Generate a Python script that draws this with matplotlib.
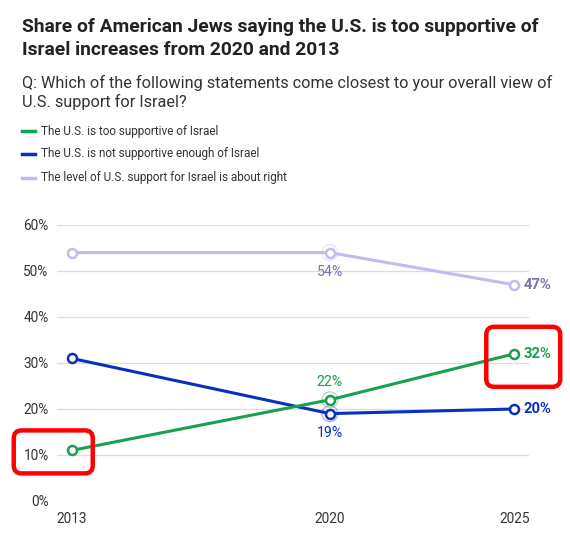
import matplotlib.pyplot as plt
from matplotlib.patches import FancyBboxPatch

years = [2013, 2020, 2025]
too_supportive = [11, 22, 32]
not_enough = [31, 19, 20]
about_right = [54, 54, 47]
series_names = ["The U.S. is too supportive of Israel",
                "The U.S. is not supportive enough of Israel",
                "The level of U.S. support for Israel is about right"]
yticks = [0, 10, 20, 30, 40, 50, 60]

green = '#17a052'
blue = '#0a2fbf'
lav = '#c3baf0'
lav_txt = '#7a72b4'

W, H = 570, 533
fig = plt.figure(figsize=(W / 100, H / 100), dpi=100)
plt.rcParams['font.family'] = ['Roboto', 'DejaVu Sans']

def fx(px):
    return px / W

def fy(py):
    return 1 - py / H

# titles
fig.text(fx(22), fy(32), "Share of American Jews saying the U.S. is too supportive of",
         fontsize=13.9, fontweight='bold', color='#222222')
fig.text(fx(22), fy(55), "Israel increases from 2020 and 2013",
         fontsize=13.9, fontweight='bold', color='#222222')
fig.text(fx(22), fy(88), "Q: Which of the following statements come closest to your overall view of",
         fontsize=11.7, color='#333333')
fig.text(fx(22), fy(107), "U.S. support for Israel?",
         fontsize=11.7, color='#333333')

# legend
for name, col, py in zip(series_names, [green, blue, lav], [131, 154, 178]):
    fig.add_artist(plt.Line2D([fx(22), fx(35)], [fy(py), fy(py)], color=col, lw=2.5))
    fig.text(fx(41), fy(py), name, fontsize=8.5, color='#333333', va='center')

ax = fig.add_axes([fx(57), fy(501), fx(529) - fx(57), fy(225) - fy(501)])
ax.set_xlim(2012.6, 2025.4)
ax.set_ylim(0, 60)
for s in ax.spines.values():
    s.set_visible(False)
ax.set_yticks(yticks)
ax.set_yticklabels([f"{v}%" for v in yticks])
ax.set_xticks(years)
ax.tick_params(length=0, labelsize=9.8, labelcolor='#333333')
ax.tick_params(axis='y', pad=6)
ax.tick_params(axis='x', pad=8)
for v in yticks[1:]:
    ax.axhline(v, color='#dddddd', lw=0.9, zorder=0)

for vals, col in [(about_right, lav), (not_enough, blue), (too_supportive, green)]:
    ax.plot(years, vals, color=col, lw=2.2, marker='o', markersize=6.5,
            markerfacecolor='white', markeredgewidth=1.8, clip_on=False, zorder=3)
    ax.scatter([years[1]], [vals[1]], s=130, facecolor='none', edgecolor=col,
               linewidth=0.8, alpha=0.4, zorder=2, clip_on=False)

# 2020 labels
ax.annotate(f"{about_right[1]}%", (years[1], about_right[1]), xytext=(0, -14),
            textcoords='offset points', ha='center', va='center', fontsize=10.2, color=lav_txt)
ax.annotate(f"{too_supportive[1]}%", (years[1], too_supportive[1]), xytext=(0, 13),
            textcoords='offset points', ha='center', va='center', fontsize=10.2, color=green)
ax.annotate(f"{not_enough[1]}%", (years[1], not_enough[1]), xytext=(0, -14),
            textcoords='offset points', ha='center', va='center', fontsize=10.2, color=blue)

# 2025 labels
for vals, col in [(about_right, lav_txt), (too_supportive, green), (not_enough, blue)]:
    ax.annotate(f"{vals[2]}%", (years[2], vals[2]), xytext=(7, 0),
                textcoords='offset points', ha='left', va='center', fontsize=10.6,
                fontweight='bold', color=col)

# red highlight boxes around the green end points
fig.canvas.draw()
for i, (l, r, t, b) in [(0, (-58, 21, -20, 23)), (2, (-28, 46, -27, 33))]:
    x0, y0 = ax.transData.transform((years[i], too_supportive[i]))
    left, right = x0 + l, x0 + r
    bottom, top = y0 - b, y0 - t
    box = FancyBboxPatch((left + 8, bottom + 8), right - left - 16, top - bottom - 16,
                         boxstyle="round,pad=8", transform=None, fill=False,
                         edgecolor='#ff0000', linewidth=3.2, zorder=10)
    fig.add_artist(box)

fig.savefig('out.png', dpi=100)
